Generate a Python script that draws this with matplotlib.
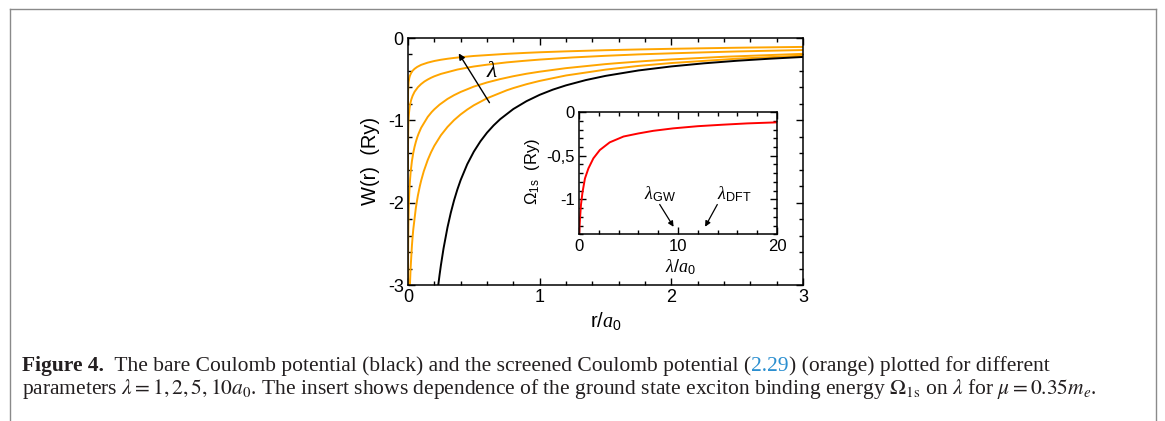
import matplotlib
matplotlib.use('Agg')
import matplotlib.pyplot as plt
from matplotlib.ticker import MultipleLocator, FixedLocator, FixedFormatter

plt.rcParams['font.family'] = ['Liberation Sans', 'DejaVu Sans']
plt.rcParams['mathtext.fontset'] = 'custom'
plt.rcParams['mathtext.rm'] = 'Liberation Sans'
plt.rcParams['mathtext.sf'] = 'Liberation Sans'
plt.rcParams['mathtext.it'] = 'Liberation Serif:italic'
plt.rcParams['axes.unicode_minus'] = False

# bare Coulomb potential (black)
r_bare = [0.2, 0.21, 0.22, 0.23, 0.24, 0.25, 0.27, 0.3, 0.325, 0.35, 0.375, 0.4, 0.45, 0.5,
          0.55, 0.6, 0.65, 0.7, 0.8, 0.9, 1.0, 1.1, 1.2, 1.35, 1.5, 1.75, 2.0, 2.25, 2.5,
          2.75, 3.0]
w_bare = [-3.45, -3.286, -3.136, -3.0, -2.875, -2.76, -2.556, -2.30, -2.123, -1.971, -1.84,
          -1.725, -1.533, -1.38, -1.255, -1.15, -1.062, -0.986, -0.8625, -0.767, -0.69,
          -0.627, -0.575, -0.511, -0.46, -0.394, -0.345, -0.307, -0.276, -0.251, -0.23]

# screened potential, lambda = 1, 2, 5, 10 a0 (orange)
r_l1 = [0.002, 0.005, 0.01, 0.015, 0.02, 0.03, 0.035, 0.04, 0.06, 0.075, 0.09, 0.1, 0.12,
        0.15, 0.175, 0.2, 0.25, 0.3, 0.35, 0.4, 0.45, 0.5, 0.6, 0.75, 0.8, 0.9, 1.0, 1.2,
        1.5, 1.75, 2.0, 2.5, 3.0]
w_l1 = [-4.369, -3.739, -3.264, -2.988, -2.793, -2.520, -2.417, -2.327, -2.060, -1.915,
        -1.799, -1.732, -1.618, -1.481, -1.388, -1.309, -1.181, -1.080, -0.997, -0.928,
        -0.869, -0.817, -0.732, -0.635, -0.608, -0.561, -0.521, -0.455, -0.384, -0.339,
        -0.304, -0.251, -0.214]
r_l2 = [0.00002, 0.0002, 0.0005, 0.001, 0.002, 0.003, 0.005, 0.007, 0.01, 0.014, 0.02, 0.03,
        0.04, 0.05, 0.06, 0.07, 0.08, 0.1, 0.15, 0.18, 0.2, 0.24, 0.3, 0.35, 0.4, 0.5, 0.6,
        0.7, 0.8, 0.9, 1.0, 1.2, 1.5, 1.6, 1.8, 2.0, 2.4, 3.0]
w_l2 = [-4.012, -3.217, -2.901, -2.662, -2.423, -2.284, -2.107, -1.992, -1.870, -1.754,
        -1.632, -1.494, -1.396, -1.321, -1.260, -1.208, -1.164, -1.090, -0.958, -0.899,
        -0.866, -0.809, -0.740, -0.694, -0.655, -0.590, -0.540, -0.499, -0.464, -0.434,
        -0.409, -0.366, -0.317, -0.304, -0.280, -0.260, -0.228, -0.192]
r_l5 = [0.00005, 0.0005, 0.0025, 0.005, 0.0075, 0.0125, 0.0175, 0.025, 0.035, 0.05, 0.075,
        0.1, 0.125, 0.15, 0.175, 0.2, 0.25, 0.375, 0.45, 0.5, 0.6, 0.75, 0.875, 1.0, 1.25,
        1.5, 1.75, 2.0, 2.25, 2.5, 3.0]
w_l5 = [-1.605, -1.287, -1.065, -0.969, -0.913, -0.843, -0.797, -0.748, -0.702, -0.653,
        -0.598, -0.559, -0.528, -0.504, -0.483, -0.465, -0.436, -0.383, -0.360, -0.346,
        -0.324, -0.296, -0.278, -0.262, -0.236, -0.216, -0.199, -0.186, -0.174, -0.163,
        -0.146]
r_l10 = [0.0001, 0.001, 0.005, 0.01, 0.015, 0.025, 0.035, 0.05, 0.07, 0.1, 0.15, 0.2, 0.25,
         0.3, 0.35, 0.4, 0.5, 0.75, 0.9, 1.0, 1.2, 1.5, 1.75, 2.0, 2.5, 3.0]
w_l10 = [-0.802, -0.643, -0.532, -0.485, -0.457, -0.421, -0.398, -0.374, -0.351, -0.326,
         -0.299, -0.279, -0.264, -0.252, -0.242, -0.233, -0.218, -0.192, -0.180, -0.173,
         -0.162, -0.148, -0.139, -0.131, -0.118, -0.108]

# inset: ground state binding energy vs lambda
lam_inset = [0.02, 0.05, 0.1, 0.2, 0.35, 0.6, 0.95, 1.45, 2.1, 3.1, 4.5, 6.0, 7.5, 9.5, 12.0,
             14.5, 17.0, 20.0]
omega_1s = [-1.40, -1.32, -1.22, -1.06, -0.92, -0.76, -0.645, -0.53, -0.435, -0.347, -0.28,
            -0.245, -0.215, -0.187, -0.162, -0.145, -0.130, -0.118]

main_yticks = [0, -1, -2, -3]
main_ylabels = ['0', '-1', '-2', '-3']
inset_yticks = [0, -0.5, -1]
inset_ylabels = ['0', '-0,5', '-1']

orange = '#FFA500'
ink = '#231f20'

fig = plt.figure(figsize=(11.65, 4.21), dpi=100)

# page frame + caption layer (pixel coords)
bg = fig.add_axes([0, 0, 1, 1], zorder=-1)
bg.set_xlim(0, 1165)
bg.set_ylim(421, 0)
bg.axis('off')
bg.plot([10, 1156], [9, 9], color='#8a8a8a', lw=1)
bg.plot([10, 10], [9, 421], color='#8a8a8a', lw=1)
bg.plot([1156, 1156], [9, 421], color='#8a8a8a', lw=1)

ax = fig.add_axes([0.3502, 0.3230, 0.3391, 0.5867])
for r, w in [(r_l1, w_l1), (r_l2, w_l2), (r_l5, w_l5), (r_l10, w_l10)]:
    ax.plot(r, w, color=orange, lw=1.4)
ax.plot(r_bare, w_bare, color='k', lw=1.4)
ax.set_xlim(0, 3)
ax.set_ylim(-3, 0)
ax.xaxis.set_major_locator(MultipleLocator(1))
ax.xaxis.set_minor_locator(MultipleLocator(0.2))
ax.yaxis.set_major_locator(FixedLocator(main_yticks))
ax.yaxis.set_major_formatter(FixedFormatter(main_ylabels))
ax.yaxis.set_minor_locator(MultipleLocator(0.2))
ax.tick_params(which='both', direction='in', top=True, right=True, labelsize=13, pad=3)
ax.tick_params(which='major', length=5, width=1)
ax.tick_params(which='minor', length=3, width=1)
for s in ax.spines.values():
    s.set_linewidth(1.1)
ax.set_xlabel(r'r/$a_{\mathrm{0}}$', fontsize=14.5)
ax.xaxis.set_label_coords(0.5, -0.10)
ax.set_ylabel('W(r)  (Ry)', fontsize=14.5)
ax.yaxis.set_label_coords(-0.071, 0.502)
ax.annotate('', xy=(0.374, -0.158), xytext=(0.63, -0.814),
            arrowprops=dict(arrowstyle='-|>', color='k', lw=1, mutation_scale=9))
ax.text(0.64, -0.40, r'$\lambda$', fontsize=17, ha='center', va='center')

ins = fig.add_axes([0.4970, 0.4432, 0.1700, 0.2907])
ins.plot(lam_inset, omega_1s, color='#FF0000', lw=1.4)
ins.set_xlim(0, 20)
ins.set_ylim(-1.4, 0)
ins.xaxis.set_major_locator(MultipleLocator(10))
ins.xaxis.set_minor_locator(MultipleLocator(2))
ins.yaxis.set_major_locator(FixedLocator(inset_yticks))
ins.yaxis.set_major_formatter(FixedFormatter(inset_ylabels))
ins.yaxis.set_minor_locator(MultipleLocator(0.1))
ins.tick_params(which='both', direction='in', top=True, right=True, labelsize=12, pad=3)
ins.tick_params(which='major', length=5, width=1)
ins.tick_params(which='minor', length=3, width=1)
for s in ins.spines.values():
    s.set_linewidth(1.1)
ins.set_xlabel(r'$\lambda$/$a_{\mathrm{0}}$', fontsize=13)
ins.xaxis.set_label_coords(0.51, -0.19)
ins.set_ylabel(r'$\Omega_{\mathrm{1s}}$  (Ry)', fontsize=12)
ins.yaxis.set_label_coords(-0.187, 0.51)
ins.text(8.2, -0.94, r'$\lambda_{\mathrm{GW}}$', fontsize=13, ha='center', va='center')
ins.text(15.7, -0.94, r'$\lambda_{\mathrm{DFT}}$', fontsize=13, ha='center', va='center')
ins.annotate('', xy=(9.7, -1.34), xytext=(8.0, -1.03),
             arrowprops=dict(arrowstyle='-|>', color='k', lw=0.9, mutation_scale=8))
ins.annotate('', xy=(12.6, -1.34), xytext=(14.1, -1.03),
             arrowprops=dict(arrowstyle='-|>', color='k', lw=0.9, mutation_scale=8))

# caption
cap_font = ['Liberation Serif', 'DejaVu Serif']
cap_size = 15.5
fig.canvas.draw()
renderer = fig.canvas.get_renderer()
pieces = [('Figure 4.', dict(fontweight='bold')),
          ('  The bare Coulomb potential (black) and the screened Coulomb potential (', {}),
          ('2.29', dict(color='#2b8fd0')),
          (') (orange) plotted for different', {})]
x = 22
for txt, kw in pieces:
    kw.setdefault('color', ink)
    t = bg.text(x, 371, txt, va='baseline', ha='left', fontsize=cap_size, family=cap_font,
                math_fontfamily='stix', **kw)
    bb = t.get_window_extent(renderer)
    x = bg.transData.inverted().transform((bb.x1, bb.y0))[0]
bg.text(22, 394, r'parameters $\lambda = 1, 2, 5, 10a_0$. The insert shows dependence of the '
        r'ground state exciton binding energy $\Omega_{1\mathrm{s}}$ on $\lambda$ for '
        r'$\mu = 0.35m_e$.', va='baseline', ha='left', fontsize=cap_size, family=cap_font,
        color=ink, math_fontfamily='stix')

fig.savefig('out.png', dpi=100)
